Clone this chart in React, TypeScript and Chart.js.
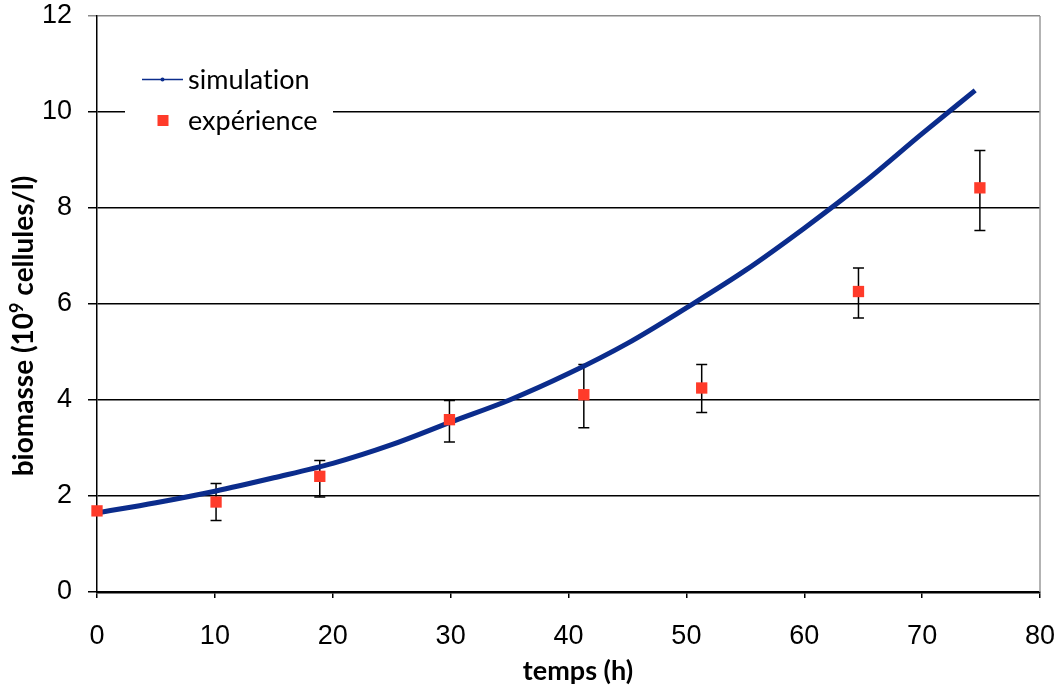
import React, { useEffect, useRef } from "react";
import { Chart, registerables } from "chart.js";
Chart.register(...registerables);

// Simulation curve
const simX = [0, 5, 10, 15, 20, 25, 30, 35, 40, 45, 50, 55, 60, 65, 70, 74.5];
const simY = [1.65, 1.86, 2.1, 2.38, 2.68, 3.07, 3.54, 4.0, 4.55, 5.18, 5.92, 6.7, 7.58, 8.52, 9.55, 10.45];

// Experimental points with error bars
const expX = [0, 10.1, 18.9, 29.9, 41.3, 51.3, 64.6, 74.9];
const expY = [1.69, 1.875, 2.41, 3.59, 4.11, 4.25, 6.26, 8.42];
const expLow = [1.69, 1.49, 1.98, 3.125, 3.42, 3.74, 5.71, 7.53];
const expHigh = [1.69, 2.26, 2.74, 3.99, 4.74, 4.74, 6.75, 9.2];

const xTicks = [0, 10, 20, 30, 40, 50, 60, 70, 80];
const yTicks = [0, 2, 4, 6, 8, 10, 12];

const seriesNames = ["simulation", "expérience"];
const xTitle = "temps (h)";
const yTitleParts = ["biomasse (10", "9", " cellules/l)"];

const BLUE = "#0b2c8c";
const RED = "#ff3b2a";

export default function App() {
  const ref = useRef<HTMLCanvasElement>(null);

  useEffect(() => {
    const canvas = ref.current!;

    const errorBars = {
      id: "errorBars",
      beforeDatasetsDraw(chart: any) {
        const { ctx, scales } = chart;
        const xs = scales.x;
        const ys = scales.y;
        ctx.save();
        ctx.strokeStyle = "#000";
        ctx.lineWidth = 1.5;
        for (let i = 0; i < expX.length; i++) {
          if (expHigh[i] === expLow[i]) continue;
          const px = xs.getPixelForValue(expX[i]);
          const pt = ys.getPixelForValue(expHigh[i]);
          const pb = ys.getPixelForValue(expLow[i]);
          ctx.beginPath();
          ctx.moveTo(px, pt);
          ctx.lineTo(px, pb);
          ctx.moveTo(px - 5.5, pt);
          ctx.lineTo(px + 5.5, pt);
          ctx.moveTo(px - 5.5, pb);
          ctx.lineTo(px + 5.5, pb);
          ctx.stroke();
        }
        // plot border (right side)
        const ca = chart.chartArea;
        ctx.strokeStyle = "#9a9a9a";
        ctx.lineWidth = 1.5;
        ctx.beginPath();
        ctx.moveTo(ca.right, ca.top);
        ctx.lineTo(ca.right, ca.bottom);
        ctx.stroke();
        ctx.restore();
      },
    };

    const decor = {
      id: "decor",
      afterDraw(chart: any) {
        const { ctx } = chart;
        ctx.save();
        try {
          (ctx as any).letterSpacing = "0.01px";
        } catch (e) {}
        // legend box
        ctx.fillStyle = "#fff";
        ctx.fillRect(125, 50, 208, 100);
        // simulation entry
        ctx.strokeStyle = BLUE;
        ctx.lineWidth = 1.5;
        ctx.beginPath();
        ctx.moveTo(142, 79.5);
        ctx.lineTo(183, 79.5);
        ctx.stroke();
        ctx.fillStyle = BLUE;
        ctx.beginPath();
        ctx.arc(162.5, 79.5, 2, 0, Math.PI * 2);
        ctx.fill();
        ctx.fillStyle = "#000";
        ctx.font = "27px Lato";
        ctx.textAlign = "left";
        ctx.textBaseline = "alphabetic";
        ctx.fillText(seriesNames[0], 188, 89);
        // experience entry
        ctx.fillStyle = RED;
        ctx.fillRect(157.5, 115, 11, 11);
        ctx.fillStyle = "#000";
        ctx.fillText(seriesNames[1], 188, 130);

        // x title
        ctx.font = "bold 27px Lato";
        ctx.textAlign = "center";
        ctx.fillText(xTitle, 578, 680);

        // y title (rotated)
        const big = "bold 28px Lato";
        const small = "bold 18px Lato";
        ctx.font = big;
        const w0 = ctx.measureText(yTitleParts[0]).width;
        const w2 = ctx.measureText(yTitleParts[2]).width;
        ctx.font = small;
        const w1 = ctx.measureText(yTitleParts[1]).width;
        const total = w0 + w1 + w2;
        ctx.translate(33, 326);
        ctx.rotate(-Math.PI / 2);
        ctx.textAlign = "left";
        let cx = -total / 2;
        ctx.font = big;
        ctx.fillText(yTitleParts[0], cx, 0);
        cx += w0;
        ctx.font = small;
        ctx.fillText(yTitleParts[1], cx, -10);
        cx += w1;
        ctx.font = big;
        ctx.fillText(yTitleParts[2], cx, 0);
        ctx.restore();
      },
    };

    const chart = new Chart(canvas, {
      type: "scatter",
      data: {
        datasets: [
          {
            label: seriesNames[1],
            data: expX.map((x, i) => ({ x, y: expY[i] })),
            backgroundColor: RED,
            borderColor: RED,
            pointStyle: "rect",
            pointRadius: 8,
            borderWidth: 0,
            showLine: false,
            clip: false,
          } as any,
          {
            label: seriesNames[0],
            data: simX.map((x, i) => ({ x, y: simY[i] })),
            borderColor: BLUE,
            backgroundColor: BLUE,
            borderWidth: 5,
            pointRadius: 0,
            showLine: true,
            clip: false,
            cubicInterpolationMode: "monotone",
          } as any,
        ],
      },
      options: {
        animation: false,
        responsive: false,
        devicePixelRatio: 1,
        layout: { padding: { left: 0, right: 24, top: 16, bottom: 0 } },
        plugins: {
          legend: { display: false },
          tooltip: { enabled: false },
        },
        scales: {
          x: {
            type: "linear",
            min: 0,
            max: 80,
            afterFit(scale: any) {
              scale.height = 97;
              scale.paddingLeft = 0;
              scale.paddingRight = 0;
            },
            afterBuildTicks(scale: any) {
              scale.ticks = xTicks.map((v) => ({ value: v }));
            },
            grid: {
              drawOnChartArea: false,
              drawTicks: true,
              tickLength: 6,
              color: "#000",
              lineWidth: 1.5,
            },
            border: { display: true, color: "#000", width: 2.5 },
            ticks: {
              padding: 22,
              color: "#000",
              font: { family: "'Liberation Sans', Arial", size: 27 },
            },
          },
          y: {
            type: "linear",
            min: 0,
            max: 12,
            afterFit(scale: any) {
              scale.width = 97;
              scale.paddingTop = 0;
              scale.paddingBottom = 0;
            },
            afterBuildTicks(scale: any) {
              scale.ticks = yTicks.map((v) => ({ value: v }));
            },
            grid: {
              drawOnChartArea: true,
              drawTicks: true,
              tickLength: 9,
              color: (c: any) => (c.tick && c.tick.value === 12 ? "#8a8a8a" : "#000"),
              lineWidth: 1.5,
            },
            border: { display: true, color: "#000", width: 1.5 },
            ticks: {
              padding: 16,
              color: "#000",
              font: { family: "'Liberation Sans', Arial", size: 27 },
            },
          },
        },
      },
      plugins: [errorBars, decor],
    });
    return () => chart.destroy();
  }, []);

  return (
    <div style={{ position: "fixed", left: 0, top: 0, width: 1064, height: 689, background: "#fff" }}>
      <canvas ref={ref} width={1064} height={689} style={{ display: "block", width: 1064, height: 689 }} />
    </div>
  );
}
